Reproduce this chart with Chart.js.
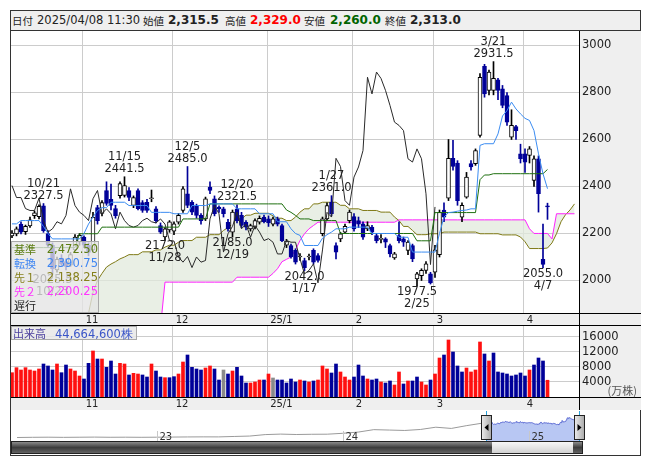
<!DOCTYPE html>
<html lang="ja">
<head>
<meta charset="utf-8">
<title>株価チャート 一目均衡表</title>
<script src="https://cdn.jsdelivr.net/npm/chart.js@4.4.1/dist/chart.umd.min.js"></script>
<style>
  html, body { margin:0; padding:0; background:#fff; }
  body { position:relative; width:653px; height:470px; overflow:hidden; font-family:"DejaVu Sans", sans-serif; color:#222; }
  .abs { position:absolute; }
  #frame { left:10px; top:10px; width:631px; height:446px; border:1px solid #333; box-sizing:border-box; }
  #head { left:11px; top:11px; width:629px; height:19px; background:#efefef; border-bottom:1px solid #333; }
  .ht { position:absolute; top:11px; line-height:19px; font-size:11.5px; white-space:nowrap; }
  .jp { font-family:"Noto Sans CJK JP", sans-serif; font-size:10.5px; }
  .b { font-weight:bold; font-size:12px; }
  canvas { position:absolute; display:block; }
  #legend { left:11px; top:241px; width:88px; height:72px; background:rgba(228,228,228,0.78); border:1px solid #a9a9a9; box-sizing:border-box; }
  #legend .row { position:absolute; left:1px; width:85px; height:14px; line-height:14px; }
  #legend .k { position:absolute; left:1px; font-family:"Noto Sans CJK JP", sans-serif; font-size:11px; }
  #legend .v { position:absolute; right:0; font-size:11.5px; }
  #volLabel { left:11px; top:326px; width:126px; height:14px; background:rgba(232,232,232,0.85); border:1px solid #a9a9a9; box-sizing:border-box; line-height:12px; font-size:11.5px; white-space:nowrap; }
  #volLabel .jp { font-size:11px; }
</style>
</head>
<body>
<div id="frame" class="abs"></div>
<div id="head" class="abs"></div>
<span class="ht jp" style="left:12px">日付</span>
<span class="ht" id="hDate" style="left:37px"></span>
<span class="ht jp" style="left:143px">始値</span>
<span class="ht b" id="hOpen" style="left:168px"></span>
<span class="ht jp" style="left:225px">高値</span>
<span class="ht b" id="hHigh" style="left:250px;color:#ff0000"></span>
<span class="ht jp" style="left:304px">安値</span>
<span class="ht b" id="hLow" style="left:330px;color:#006400"></span>
<span class="ht jp" style="left:385px">終値</span>
<span class="ht b" id="hClose" style="left:410px"></span>

<canvas id="price" width="630" height="294" style="left:11px;top:31px;width:630px;height:294px"></canvas>
<canvas id="volume" width="630" height="85" style="left:11px;top:325px;width:630px;height:85px"></canvas>
<canvas id="nav" width="629" height="44" style="left:11px;top:411px;width:629px;height:44px"></canvas>

<div id="legend" class="abs">
  <div class="row" style="top:0px;color:#5c7d12"><span class="k">基準</span><span class="v" id="lgKijun"></span></div>
  <div class="row" style="top:14px;color:#3f86f2"><span class="k">転換</span><span class="v" id="lgTenkan"></span></div>
  <div class="row" style="top:28px;color:#86801c"><span class="k">先１</span><span class="v" id="lgSpan1"></span></div>
  <div class="row" style="top:42px;color:#ff33ff"><span class="k">先２</span><span class="v" id="lgSpan2"></span></div>
  <div class="row" style="top:56px;color:#222"><span class="k">遅行</span></div>
</div>
<div id="volLabel" class="abs"><span class="jp" style="color:#4b3f9e;margin-left:1px">出来高</span><span id="volText" style="color:#3a55c8;margin-left:9px"></span></div>

<script>
// ---- daily sessions (2024/10/09 - 2025/04/08) ----
const dates = ['10/9','10/10','10/11','10/15','10/16','10/17','10/18','10/21','10/22','10/23','10/24','10/25','10/28','10/29','10/30','10/31',
'11/1','11/5','11/6','11/7','11/8','11/11','11/12','11/13','11/14','11/15','11/18','11/19','11/20','11/21','11/22','11/25','11/26','11/27','11/28','11/29',
'12/2','12/3','12/4','12/5','12/6','12/9','12/10','12/11','12/12','12/13','12/16','12/17','12/18','12/19','12/20','12/23','12/24','12/25','12/26','12/27','12/30',
'1/6','1/7','1/8','1/9','1/10','1/14','1/15','1/16','1/17','1/20','1/21','1/22','1/23','1/24','1/27','1/28','1/29','1/30','1/31',
'2/3','2/4','2/5','2/6','2/7','2/10','2/12','2/13','2/14','2/17','2/18','2/19','2/20','2/21','2/25','2/26','2/27','2/28',
'3/3','3/4','3/5','3/6','3/7','3/10','3/11','3/12','3/13','3/14','3/17','3/18','3/19','3/21','3/24','3/25','3/26','3/27','3/28','3/31',
'4/1','4/2','4/3','4/4','4/7','4/8'];

const opens = [2190,2198,2240,2208,2232,2276,2272,2318,2200,2150, 2045,2095,2080,2065,2130,2165,2185,2150,2130,2310,
 2285,2383,2345,2306,2361,2362,2383,2319,2383,2332, 2333,2348,2305,2234,2185,2215,2210,2248,2298,2369,
 2333,2319,2277,2262,2397,2348,2312,2305,2248,2206, 2305,2277,2248,2220,2227,2248,2270,2262,2240,2262,
 2234,2150,2149,2128,2100,2085,2100,2128,2106,2199, 2262,2333,2149,2177,2206,2255,2272,2255,2241,2220,
 2227,2191,2175,2177,2149,2096,2191,2177,2128,2149, 2007,2021,2043,2028,2035,2110,2300,2350,2520,2500,
 2270,2355,2497,2497,2617,2911,2809,2809,2854,2816, 2787,2610,2655,2539,2539,2532,2426,2518,2090,2315.5];
const highs = [2212,2228,2250,2236,2270,2296,2322,2327.5,2212,2160, 2100,2110,2092,2120,2195,2200,2190,2160,2290,2320,
 2340,2420,2410,2320,2420,2441.5,2395,2360,2390,2340, 2345,2385,2315,2245,2225,2255,2250,2285,2400,2485,
 2340,2325,2285,2355,2420,2360,2318,2312,2260,2300, 2321.5,2290,2255,2240,2262,2275,2278,2275,2270,2270,
 2240,2175,2155,2135,2115,2095,2112,2135,2115,2270, 2330,2361,2160,2205,2240,2300,2285,2270,2250,2250,
 2235,2200,2195,2182,2155,2120,2250,2185,2170,2155, 2035,2050,2080,2035,2150,2300,2330,2600,2596,2510,
 2330,2460,2510,2560,2880,2920,2895,2931.5,2860,2830, 2800,2726.5,2660,2580,2560,2570,2530,2530,2240,2329];
const lows = [2182,2190,2198,2196,2226,2264,2262,2205,2140,2025.5, 2035,2060,2045,2060,2125,2150,2140,2105,2120,2240,
 2275,2320,2300,2265,2350,2355,2340,2310,2300,2290, 2290,2335,2245,2200,2172,2205,2195,2240,2290,2310,
 2280,2265,2240,2255,2370,2275,2290,2270,2210,2185, 2245,2225,2215,2210,2220,2240,2245,2230,2232,2232,
 2165,2140,2095,2070,2085,2042,2088,2070,2078,2190, 2255,2275,2092,2165,2200,2245,2210,2225,2175,2212,
 2195,2160,2160,2140,2100,2090,2160,2145,2110,2080, 1977.5,2000,2030,1985,2013.5,2100,2250,2340,2470,2320,
 2250,2350,2470,2490,2610,2780,2790,2790,2770,2735, 2660,2600,2600,2500,2460,2500,2400,2291,2055,2260];
const closes = [2202,2220,2206,2230,2258,2288,2316,2212,2150,2050, 2090,2070,2060,2110,2185,2192,2150,2120,2270,2255,
 2332,2328,2320,2276,2412,2404,2353,2353,2306,2298, 2298,2350,2255,2206,2220,2250,2241,2277,2390,2319,
 2291,2277,2255,2348,2383,2284,2305,2284,2220,2291, 2255,2234,2227,2234,2255,2265,2250,2245,2262,2240,
 2170,2168,2100,2078,2102,2055,2100,2078,2085,2262, 2319,2284,2121,2199,2230,2291,2220,2240,2184,2234,
 2206,2170,2178,2163,2113,2113,2170,2163,2163,2092, 2028,2043,2071,1990,2130,2290,2270,2520,2485,2340,
 2320,2440,2483,2553,2865,2794,2887,2860,2809,2745, 2674,2660,2638,2518,2504,2560,2518,2369,2068,2313];

// volume in 万株
const volumes = [6480,7820,7200,7820,7200,6930,7470,8800,8270,7200, 8800,6480,8530,7470,6930,5600,4800,8980,12270,10130,
 10130,7910,9600,6130,8980,8800,5870,6310,6130,5870, 5330,8800,6930,5330,5150,5150,5420,6130,9330,11200,
 7910,7470,7200,7730,8270,7470,4530,7200,6130,6930, 7910,5600,3730,3730,4000,4530,4530,6130,5070,4530,
 4530,3730,4800,4000,4530,4270,4000,4270,4530,8270, 7470,6400,8800,6670,5330,4530,5330,8530,5600,4800,
 4530,4800,4000,3730,4270,3200,6670,3470,4270,4270, 5330,4000,3200,4530,6130,10400,11200,15200,12000,8270,
 6670,7730,6670,7200,14670,11470,9600,11730,6670,6400, 6130,5600,5870,6400,5600,7200,8530,10400,9600,4466.46];
// volume bar colour per session (u: up, d: down, n: unchanged)
const volDirs = [
 'u','u','u','u','u','u','u','d','d','d',
 'u','d','d','u','u','u','d','d','u','d',
 'u','d','d','d','u','u','d','u','u','d',
 'd','u','d','d','u','d','d','u','u','d',
 'd','d','d','u','u','d','d','n','d','u',
 'd','d','d','u','u','u','d','u','n','d',
 'd','d','d','d','u','d','u','d','u','u',
 'u','d','d','u','u','u','d','d','d','u',
 'd','d','u','d','d','u','u','d','u','d',
 'd','u','u','d','u','u','d','u','d','d',
 'd','u','u','u','u','d','u','d','d','d',
 'd','d','d','d','d','u','d','d','d','u'];

// ---- ichimoku lines (転換 / 基準 to the last session, 先行 spans run 6 sessions ahead) ----
const tenkan = [2241,2241,2255,2255,2255,2255,2255,2230,2200,2177, 2177,2177,2177,2177,2177,2177,2200,2240,2270,2298,
 2310,2310,2333,2333,2333,2333,2319,2319,2319,2319, 2319,2290,2290,2290,2290,2290,2284,2284,2284,2284,
 2319,2319,2319,2319,2326,2326,2326,2326,2326,2326, 2305,2305,2305,2305,2305,2284,2284,2284,2284,2250,
 2250,2250,2220,2200,2192,2149,2149,2149,2149,2180, 2195,2206,2220,2220,2220,2227,2227,2227,2227,2227,
 2200,2200,2200,2200,2200,2200,2184,2184,2184,2121, 2121,2121,2121,2121,2121,2200,2270,2289,2291,2295,
 2298,2300,2305,2305,2575,2582,2582,2582,2624,2700, 2723,2759,2730,2709,2690,2681,2638,2539,2454,2390.75];
const kijun = [2140,2140,2140,2140,2140,2140,2140,2140,2140,2140, 2140,2140,2140,2140,2140,2199,2199,2199,2199,2199,
 2227,2227,2227,2227,2227,2227,2227,2227,2227,2227, 2227,2227,2227,2227,2227,2227,2227,2227,2262,2262,
 2262,2262,2262,2262,2326,2326,2326,2326,2326,2326, 2326,2326,2326,2326,2326,2326,2326,2326,2326,2326,
 2326,2300,2290,2277,2262,2262,2262,2255,2255,2255, 2255,2255,2255,2200,2200,2200,2200,2200,2200,2200,
 2200,2200,2200,2200,2200,2200,2200,2200,2200,2200, 2169,2169,2169,2169,2289,2289,2289,2289,2289,2289,
 2289,2289,2289,2289,2429,2449,2449,2454.5,2454.5,2454.5, 2454.5,2454.5,2454.5,2454.5,2454.5,2454.5,2454.5,2454.5,2454.5,2472.5];
const span1 = [1800,1800,1800,1800,1800,1800,1800,1800,1800,1800, 1800,1800,1800,1800,1800,1800,1800,1860,1950,2000,
 2030,2057,2070,2080,2092,2100,2110,2110,2110,2122, 2122,2122,2130,2130,2142,2150,2150,2163,2170,2170,
 2170,2184,2184,2184,2195,2195,2195,2213,2225,2241, 2262,2262,2278,2278,2286,2286,2286,2286,2275,2265,
 2265,2255,2255,2270,2291,2305,2305,2326,2326,2333, 2333,2333,2333,2320,2320,2305,2305,2305,2298,2298,
 2298,2298,2291,2291,2291,2270,2255,2230,2230,2213, 2195,2195,2195,2199,2199,2199,2206,2206,2206,2206,
 2206,2206,2206,2206,2199,2199,2199,2199,2199,2194, 2194,2194,2194,2185,2165,2136,2136,2136,2136,2138.25,
 2160,2199,2250,2280,2300,2326];
const span2 = [1800,1800,1800,1800,1800,1800,1800,1800,1800,1800, 1800,1800,1800,1800,1800,1800,1800,1800,1800,1800,
 1800,1800,1800,1800,1800,1800,1800,1800,1800,1800, 1800,1800,1800,1800,1993,1993,1993,1993,1993,1993,
 1993,1993,1993,1993,1993,1993,1993,1993,1993,1993, 2014,2014,2014,2014,2014,2014,2014,2014,2030,2050,
 2080,2090,2100,2130,2170,2199,2220,2234,2248,2248, 2248,2248,2248,2248,2248,2248,2248,2248,2248,2248,
 2248,2248,2248,2248,2248,2248,2258,2258,2258,2258, 2258,2258,2258,2258,2258,2258,2258,2258,2258,2258,
 2258,2258,2258,2258,2258,2258,2258,2258,2258,2258, 2258,2258,2258,2258,2258,2220,2200.25,2200.25,2200.25,2200.25,
 2177,2284,2284,2284,2284,2284];
const chikouShift = 25;

// high / low call-outs (session indexes)
const highMarks = [7, 25, 39, 50, 71, 107];
const lowMarks = [9, 34, 49, 65, 90, 118];

const monthLabels = ['11', '12', '25/1', '2', '3', '4'];
const priceTicks = [2000, 2200, 2400, 2600, 2800, 3000];
const volTicks = [4000, 8000, 12000, 16000];
const asOf = '2025/04/08 11:30';

// long-range history for the navigator (monthly, 2022/04 -)
const navDates = ['2022-04','2022-05','2022-06','2022-07','2022-08','2022-09','2022-10','2022-11','2022-12',
 '2023-01','2023-02','2023-03','2023-04','2023-05','2023-06','2023-07','2023-08','2023-09','2023-10','2023-11','2023-12',
 '2024-01','2024-02','2024-03','2024-04','2024-05','2024-06','2024-07','2024-08','2024-09','2024-10'];
const navValues = [430,455,470,450,465,480,460,470,455, 470,485,500,510,505,560,610,790,850,800,830,840,
 950,1100,1400,1350,1300,1420,1700,1550,1900,2200];
const navYears = [{m:'2023-01', t:'23'}, {m:'2024-01', t:'24'}, {m:'2025-01', t:'25'}];
</script>
<script>
const UP = '#ffffff', DOWN = '#000099', EDGE = '#000000';
const FONT = '"DejaVu Sans", sans-serif';
Chart.defaults.font.family = FONT;
Chart.defaults.color = '#222';

const fmt1 = v => v.toLocaleString('en-US', {minimumFractionDigits:1, maximumFractionDigits:1});
const fmt2 = v => v.toLocaleString('en-US', {minimumFractionDigits:2, maximumFractionDigits:2});
const last = dates.length - 1;

document.getElementById('hDate').textContent = asOf;
document.getElementById('hOpen').textContent = fmt1(opens[last]);
document.getElementById('hHigh').textContent = fmt1(highs[last]);
document.getElementById('hLow').textContent = fmt1(lows[last]);
document.getElementById('hClose').textContent = fmt1(closes[last]);
document.getElementById('lgKijun').textContent = fmt2(kijun[last]);
document.getElementById('lgTenkan').textContent = fmt2(tenkan[last]);
document.getElementById('lgSpan1').textContent = fmt2(span1[last]);
document.getElementById('lgSpan2').textContent = fmt2(span2[last]);
document.getElementById('volText').textContent = Math.round(volumes[last] * 10000).toLocaleString('en-US') + '株';

// first session of each month -> vertical grid
const monthStarts = [];
dates.forEach((d, i) => { if (i > 0 && d.split('/')[0] !== dates[i - 1].split('/')[0]) monthStarts.push(i); });
const gridVals = monthStarts.map(i => i - 0.3);
const X_MIN = -0.2222, X_MAX = 126.0;

const isUp = i => closes[i] >= opens[i];
const pts = arr => arr.map((v, i) => ({x: i, y: v}));

const panel = {
  id: 'panel',
  beforeDraw(c) {
    const {ctx, chartArea: a, width, height} = c;
    ctx.save();
    ctx.fillStyle = '#efefef';
    ctx.fillRect(0, 0, width, height);
    ctx.fillStyle = '#ffffff';
    ctx.fillRect(a.left, a.top, a.right - a.left, a.bottom - a.top);
    ctx.restore();
  },
  afterDraw(c) {
    const {ctx, chartArea: a, width, height} = c;
    ctx.save();
    ctx.strokeStyle = '#000';
    ctx.lineWidth = 1;
    ctx.beginPath();
    ctx.moveTo(a.right + 0.5, 0); ctx.lineTo(a.right + 0.5, height);
    ctx.moveTo(0, a.bottom + 0.5); ctx.lineTo(width, a.bottom + 0.5);
    if (a.top > 0) { ctx.moveTo(0, 0.5); ctx.lineTo(width, 0.5); }
    ctx.stroke();
    ctx.restore();
  }
};

const callouts = {
  id: 'callouts',
  afterDatasetsDraw(c) {
    const {ctx, scales: {x, y}} = c;
    ctx.save();
    ctx.font = '11.5px ' + FONT;
    ctx.fillStyle = '#222';
    ctx.textAlign = 'center';
    ctx.textBaseline = 'middle';
    highMarks.forEach(i => {
      const px = x.getPixelForValue(i), py = y.getPixelForValue(highs[i]);
      ctx.fillText(highs[i].toFixed(1), px, py - 8);
      ctx.fillText(dates[i], px, py - 20);
    });
    lowMarks.forEach(i => {
      const px = x.getPixelForValue(i), py = y.getPixelForValue(lows[i]);
      ctx.fillText(lows[i].toFixed(1), px, py + 6);
      ctx.fillText(dates[i], px, py + 18);
    });
    ctx.restore();
  }
};

const xAxis = (h) => ({
  type: 'linear', offset: false, min: X_MIN, max: X_MAX,
  grid: {offset: false, color: '#cccccc', drawTicks: false},
  border: {display: false},
  afterBuildTicks: s => { s.ticks = gridVals.map(v => ({value: v})); },
  ticks: {autoSkip: false, maxRotation: 0, minRotation: 0, align: 'start', labelOffset: 3, padding: 1,
          font: {size: 10}, color: '#222', callback: (v, idx) => monthLabels[idx]},
  afterFit: s => { s.height = h; s.paddingLeft = 0; s.paddingRight = 0; s.paddingTop = 0; s.paddingBottom = 0; }
});

// ---- price panel ----
new Chart(document.getElementById('price'), {
  type: 'bar',
  data: {
    datasets: [
      {type: 'line', label: '先１', data: pts(span1), borderColor: '#7f7a16', borderWidth: 1, pointRadius: 0,
       fill: '+1', backgroundColor: 'rgba(226,234,220,0.75)', order: 10},
      {type: 'line', label: '先２', data: pts(span2), borderColor: '#ff22ff', borderWidth: 1, pointRadius: 0, fill: false, order: 9},
      {label: 'wick', data: highs.map((h, i) => ({x: i, y: [lows[i], h]})), grouped: false, barThickness: 1,
       backgroundColor: highs.map((h, i) => isUp(i) ? EDGE : DOWN), borderWidth: 0, order: 8},
      {label: 'body', data: opens.map((o, i) => ({x: i, y: [Math.min(o, closes[i]), Math.max(o, closes[i])]})),
       grouped: false, barThickness: 4, minBarLength: 1, borderSkipped: false, borderWidth: 1,
       backgroundColor: opens.map((o, i) => isUp(i) ? UP : DOWN),
       borderColor: opens.map((o, i) => isUp(i) ? EDGE : DOWN), order: 7},
      {type: 'line', label: '遅行', data: closes.slice(chikouShift).map((c, s) => ({x: s, y: c})),
       borderColor: '#2a2a2a', borderWidth: 1, pointRadius: 0, fill: false, order: 6},
      {type: 'line', label: '基準', data: pts(kijun), borderColor: '#1f7010', borderWidth: 1, pointRadius: 0, fill: false, order: 5},
      {type: 'line', label: '転換', data: pts(tenkan), borderColor: '#3b8cf2', borderWidth: 1, pointRadius: 0, fill: false, order: 4}
    ]
  },
  options: {
    responsive: false, animation: false, events: [],
    layout: {padding: 0},
    plugins: {legend: {display: false}, tooltip: {enabled: false}},
    scales: {
      x: xAxis(12),
      y: {
        position: 'right', min: 1861.7, max: 3061.7,
        grid: {color: '#cccccc', drawTicks: false},
        border: {display: false},
        afterBuildTicks: s => { s.ticks = priceTicks.map(v => ({value: v})); },
        ticks: {padding: 3, font: {size: 11.5}, color: '#222', callback: v => String(v)},
        afterFit: s => { s.width = 62; s.paddingTop = 0; s.paddingBottom = 0; }
      }
    }
  },
  plugins: [panel, callouts]
});

// ---- volume panel ----
const volColor = {u: '#ff1010', d: '#000099', n: '#8a8a8a'};
const volUnit = {
  id: 'volUnit',
  afterDraw(c) {
    const {ctx, chartArea: a} = c;
    ctx.save();
    ctx.font = '11px "Noto Sans CJK JP", sans-serif';
    ctx.fillStyle = '#555';
    ctx.textAlign = 'right';
    ctx.textBaseline = 'middle';
    ctx.fillText('(万株)', c.width - 4, a.bottom - 6);
    ctx.restore();
  }
};
new Chart(document.getElementById('volume'), {
  type: 'bar',
  data: {
    datasets: [{data: pts(volumes), grouped: false, barThickness: 3,
                backgroundColor: volDirs.map(k => volColor[k]), borderWidth: 0}]
  },
  options: {
    responsive: false, animation: false, events: [],
    layout: {padding: {top: 1}},
    plugins: {legend: {display: false}, tooltip: {enabled: false}},
    scales: {
      x: xAxis(13),
      y: {
        position: 'right', min: 0, max: 18933,
        grid: {color: '#cccccc', drawTicks: false},
        border: {display: false},
        afterBuildTicks: s => { s.ticks = volTicks.map(v => ({value: v})); },
        ticks: {padding: 3, font: {size: 11.5}, color: '#222', callback: v => String(v)},
        afterFit: s => { s.width = 62; s.paddingTop = 0; s.paddingBottom = 0; }
      }
    }
  },
  plugins: [panel, volUnit]
});

// ---- navigator ----
const monthIdx = s => { const p = s.split('-').map(Number); return (p[0] - 2022) * 12 + (p[1] - 4) + (p[2] ? (p[2] - 1) / 30 : 0); };
const selStart = monthIdx('2024-10-09'), selEnd = monthIdx('2025-04-08');
const histPts = navValues.map((v, k) => ({x: monthIdx(navDates[k]), y: v}));
const selPts = closes.map((c, i) => ({x: selStart + (selEnd - selStart) * i / last, y: c}));

const navChrome = {
  id: 'navChrome',
  afterDraw(c) {
    const {ctx, chartArea: a, scales: {x}} = c;
    const L = Math.round(x.getPixelForValue(selStart)), R = Math.round(x.getPixelForValue(selEnd));
    ctx.save();
    // year ticks and labels
    ctx.font = '10px ' + FONT; ctx.fillStyle = '#333'; ctx.textBaseline = 'middle'; ctx.textAlign = 'left';
    navYears.forEach(yr => {
      const px = Math.round(x.getPixelForValue(monthIdx(yr.m))) + 0.5;
      ctx.strokeStyle = '#c8c8c8'; ctx.beginPath(); ctx.moveTo(px, a.bottom - 10); ctx.lineTo(px, a.bottom); ctx.stroke();
      ctx.fillText(yr.t, px + 2, a.bottom - 4);
    });
    // scrollbar
    const sy = a.bottom, sh = c.height - a.bottom - 1;
    let g = ctx.createLinearGradient(0, sy, 0, sy + sh);
    g.addColorStop(0, '#9a9a9a'); g.addColorStop(0.5, '#3c3c3c'); g.addColorStop(1, '#6a6a6a');
    ctx.fillStyle = g; ctx.fillRect(0, sy, R + 4, sh);
    g = ctx.createLinearGradient(0, sy, 0, sy + sh);
    g.addColorStop(0, '#fafafa'); g.addColorStop(1, '#cfcfcf');
    ctx.fillStyle = g; ctx.fillRect(L + 6, sy + 1, R - L - 12, sh - 2);
    ctx.strokeStyle = '#222'; ctx.strokeRect(0.5, sy + 0.5, R + 3, sh - 1);
    // selection edges
    ctx.strokeStyle = '#29a3dc';
    ctx.beginPath(); ctx.moveTo(L + 0.5, 0); ctx.lineTo(L + 0.5, a.bottom); ctx.moveTo(R + 0.5, 0); ctx.lineTo(R + 0.5, a.bottom); ctx.stroke();
    // handles
    [[L, -1], [R, 1]].forEach(([hx, dir]) => {
      const hw = 11, top = 4, hh = 25;
      const gg = ctx.createLinearGradient(hx - hw / 2, 0, hx + hw / 2, 0);
      gg.addColorStop(0, '#f4f4f4'); gg.addColorStop(1, '#a8a8a8');
      ctx.fillStyle = gg; ctx.fillRect(hx - 5, top, hw, hh);
      ctx.strokeStyle = '#222'; ctx.strokeRect(hx - 5 + 0.5, top + 0.5, hw - 1, hh - 1);
      ctx.fillStyle = '#000'; ctx.beginPath();
      const cy = top + hh / 2;
      ctx.moveTo(hx + 0.5 - dir * 2, cy - 3.5); ctx.lineTo(hx + 0.5 + dir * 2, cy); ctx.lineTo(hx + 0.5 - dir * 2, cy + 3.5);
      ctx.closePath(); ctx.fill();
    });
    ctx.restore();
  }
};
new Chart(document.getElementById('nav'), {
  type: 'line',
  data: {
    datasets: [
      {data: histPts, borderColor: '#9a9a9a', borderWidth: 1, pointRadius: 0, fill: false},
      {data: selPts, borderColor: '#5a69d2', borderWidth: 1, pointRadius: 0, fill: 'start', backgroundColor: '#b8c7f3'}
    ]
  },
  options: {
    responsive: false, animation: false, events: [],
    layout: {padding: {left: 0, right: 61, top: 0, bottom: 14}},
    plugins: {legend: {display: false}, tooltip: {enabled: false}},
    scales: {
      x: {type: 'linear', display: false, min: -0.39, max: selEnd},
      y: {display: false, min: 0, max: 3700}
    }
  },
  plugins: [navChrome]
});
</script>
</body>
</html>
